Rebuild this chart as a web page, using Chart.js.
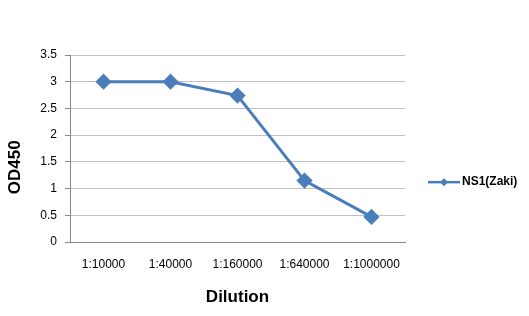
<!DOCTYPE html>
<html><head><meta charset="utf-8">
<script src="https://cdn.jsdelivr.net/npm/chart.js@4/dist/chart.umd.min.js"></script>
<style>html,body{margin:0;padding:0;background:#fff}#wrap{width:529px;height:316px}</style>
</head><body><div id="wrap"><canvas id="c"></canvas></div>
<script>
const categories = ["1:10000", "1:40000", "1:160000", "1:640000", "1:1000000"];
const seriesName = "NS1(Zaki)";
const values = [3.0, 3.0, 2.74, 1.15, 0.47];
const yTicks = [0, 0.5, 1, 1.5, 2, 2.5, 3, 3.5];
const xTitle = "Dilution";
const yTitle = "OD450";

const blue = "#4a7ebb";
const FONT = "'Liberation Sans', Arial, sans-serif";

const extras = {
  id: "extras",
  afterDraw(chart) {
    const ctx = chart.ctx;
    const a = chart.chartArea;
    ctx.save();
    ctx.font = "bold 17px " + FONT;
    ctx.fillStyle = "#000";
    ctx.textAlign = "center";
    ctx.textBaseline = "middle";
    ctx.translate(15, a.top + (a.bottom - a.top) * 0.6);
    ctx.rotate(-Math.PI / 2);
    ctx.fillText(yTitle, 0, 0);
    ctx.restore();
    ctx.save();
    const ly = a.top + (a.bottom - a.top) * 0.68;
    const lx = a.right + 23;
    ctx.strokeStyle = blue;
    ctx.lineWidth = 2.5;
    ctx.beginPath(); ctx.moveTo(lx, ly); ctx.lineTo(lx + 32, ly); ctx.stroke();
    ctx.fillStyle = blue;
    ctx.beginPath();
    const cx = lx + 16, r = 4;
    ctx.moveTo(cx, ly - r); ctx.lineTo(cx + r, ly); ctx.lineTo(cx, ly + r); ctx.lineTo(cx - r, ly); ctx.closePath(); ctx.fill();
    ctx.fillStyle = "#000";
    ctx.font = "bold 12px " + FONT;
    ctx.textAlign = "left"; ctx.textBaseline = "middle";
    ctx.fillText(seriesName, lx + 34, ly);
    ctx.restore();
  }
};

new Chart(document.getElementById("c"), {
  type: "line",
  data: {
    labels: categories,
    datasets: [{
      label: seriesName,
      data: values,
      borderColor: blue,
      backgroundColor: blue,
      borderWidth: 3,
      pointStyle: "rectRot",
      pointRadius: 6,
      pointHoverRadius: 6,
      tension: 0
    }]
  },
  options: {
    responsive: true,
    maintainAspectRatio: false,
    animation: false,
    events: [],
    layout: { padding: { left: 0, right: 124, top: 55, bottom: 0 } },
    plugins: { legend: { display: false }, tooltip: { enabled: false } },
    scales: {
      x: {
        offset: true,
        grid: { display: false, drawTicks: false },
        border: { display: true, color: "#868686", width: 1 },
        ticks: { color: "#000", font: { family: FONT, size: 12 }, padding: 15, maxRotation: 0, autoSkip: false },
        title: { display: true, text: xTitle, color: "#000", font: { family: FONT, size: 17, weight: "bold" }, padding: { top: 4, bottom: 8 } },
        afterFit(s) { s.height = 74; }
      },
      y: {
        min: 0, max: 3.5,
        afterBuildTicks(s) { s.ticks = yTicks.map(v => ({ value: v })); },
        grid: { color: "#c0c0c0", lineWidth: 1, tickLength: 5, tickColor: "#868686" },
        border: { display: true, color: "#868686", width: 1 },
        ticks: { color: "#000", font: { family: FONT, size: 12 }, padding: 8, callback: v => String(v) },
        afterFit(s) { s.width = 70; }
      }
    }
  },
  plugins: [extras]
});
</script></body></html>
